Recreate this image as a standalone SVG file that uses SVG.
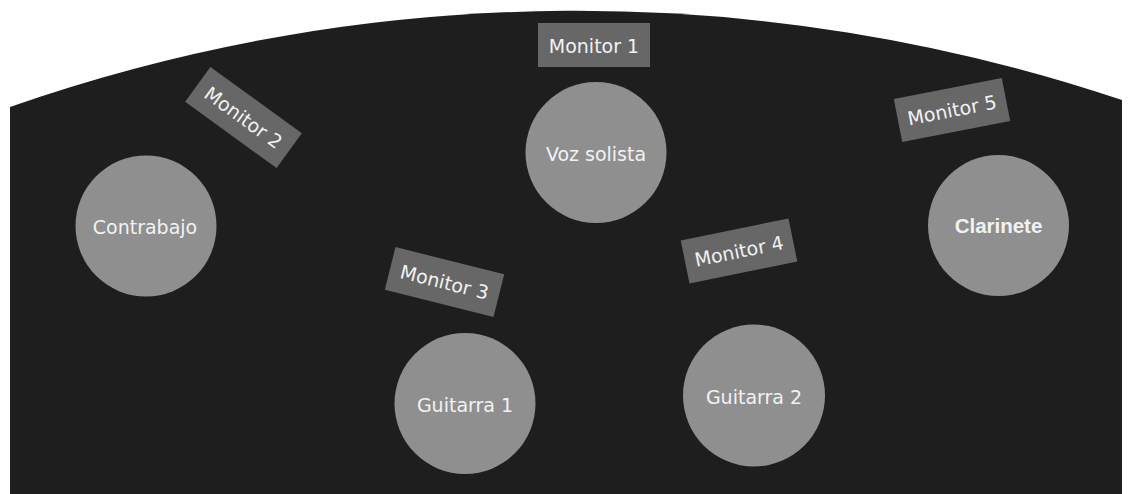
<svg xmlns="http://www.w3.org/2000/svg" width="1131" height="494" viewBox="0 0 1131 494">
<style>
.seat{fill:#8f8f8f}
.mon{fill:#676767}
.t{font-family:"DejaVu Sans",Verdana,sans-serif;font-size:19px;fill:#f2f2f2;text-anchor:middle}
.tb{font-family:"Liberation Sans",Arial,sans-serif;font-size:20.5px;font-weight:bold;fill:#f2f2f2;text-anchor:middle}
</style>
<rect width="1131" height="494" fill="#ffffff"/>
<path id="stage" d="M10,107 A1715,1715 0 0 1 1122,100 L1122,494 L10,494 Z" fill="#1e1e1e"/>
<g id="monitor1">
<rect class="mon" x="538" y="23" width="112" height="44"/>
<text class="t" x="594" y="53">Monitor 1</text>
</g>
<g id="monitor2" transform="translate(243.5,117.5) rotate(36)">
<rect class="mon" x="-56.5" y="-21.5" width="113" height="43"/>
<text class="t" x="0" y="7">Monitor 2</text>
</g>
<g id="monitor3" transform="translate(444.5,282) rotate(14)">
<rect class="mon" x="-56" y="-22" width="112" height="44"/>
<text class="t" x="0" y="7">Monitor 3</text>
</g>
<g id="monitor4" transform="translate(739,251) rotate(-11.5)">
<rect class="mon" x="-55" y="-22" width="110" height="44"/>
<text class="t" x="0" y="7">Monitor 4</text>
</g>
<g id="monitor5" transform="translate(952,110) rotate(-11)">
<rect class="mon" x="-55" y="-22" width="110" height="44"/>
<text class="t" x="0" y="7">Monitor 5</text>
</g>
<g id="voz">
<circle class="seat" cx="596" cy="152.5" r="70.5"/>
<text class="t" x="596" y="160.5">Voz solista</text>
</g>
<g id="contrabajo">
<circle class="seat" cx="146" cy="226" r="70.5"/>
<text class="t" x="145" y="234">Contrabajo</text>
</g>
<g id="clarinete">
<circle class="seat" cx="998.5" cy="225.5" r="70.5"/>
<text class="tb" x="998.5" y="233">Clarinete</text>
</g>
<g id="guitarra1">
<circle class="seat" cx="465" cy="403.5" r="70.5"/>
<text class="t" x="465" y="411.5">Guitarra 1</text>
</g>
<g id="guitarra2">
<circle class="seat" cx="754" cy="395.5" r="71"/>
<text class="t" x="754" y="403.5">Guitarra 2</text>
</g>
<g id="connectors"/>
</svg>
